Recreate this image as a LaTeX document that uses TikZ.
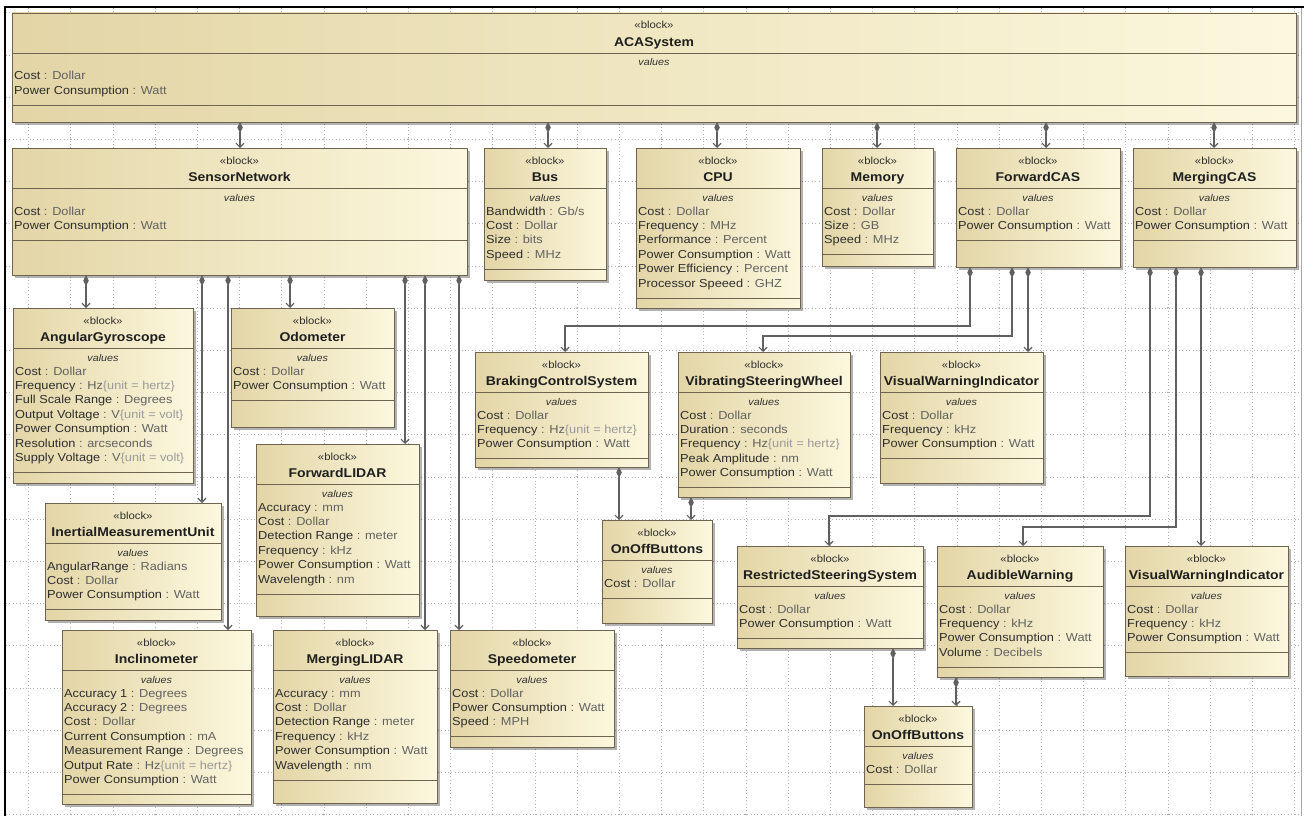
\documentclass[tikz,border=0pt]{standalone}
\usepackage{fontspec}
\setmainfont{Liberation Sans}[FakeStretch=1.1]
\usetikzlibrary{arrows.meta,shadows}

\definecolor{blkdark}{HTML}{E3D5A6}
\definecolor{blklight}{HTML}{FCF8DE}
\definecolor{blkedge}{HTML}{6E6450}
\definecolor{wire}{HTML}{606060}
\definecolor{gridgray}{HTML}{B4B4B4}
\definecolor{txtname}{HTML}{2E2E2E}
\definecolor{txttype}{HTML}{626262}
\definecolor{txtunit}{HTML}{9A9A9A}

% type and unit parts of a value property
\newcommand\attrtype[1]{\textcolor{txttype}{#1}}
\newcommand\attrunit[1]{\textcolor{txtunit}{\{#1\}}}

\tikzset{
  blockbox/.style={rectangle, draw=blkedge, line width=0.8pt,
    left color=blkdark, right color=blklight, inner sep=0pt, outer sep=0pt,
    drop shadow={shadow xshift=2.5pt, shadow yshift=-2.5pt, fill=black, opacity=0.3}},
  divline/.style={draw=blkedge, line width=0.8pt},
  stereo/.style={font=\fontsize{10.3}{12}\selectfont, text=txtname, inner sep=0pt, anchor=base},
  bname/.style={font=\bfseries\fontsize{12.7}{14}\selectfont, text=black!88, inner sep=0pt, anchor=base},
  vlabel/.style={font=\itshape\fontsize{9.8}{12}\selectfont, text=black!80, inner sep=0pt, anchor=base},
  attr/.style={font=\fontsize{11.6}{14}\selectfont, text=txtname, inner sep=0pt, anchor=base west},
  gridline/.style={draw=gridgray, line width=0.5pt, dash pattern=on 0.8pt off 2.6pt},
  comp/.style={draw=wire, line width=1.2pt,
    arrows={Diamond[length=11pt,width=5.5pt]-Straight Barb[length=4pt,width=8pt]}},
}

% #1 name, #2 left, #3 top, #4 right, #5 bottom, #6 title, #7 number of values, #8 values
\newcommand\sysblock[8]{%
  \pgfmathsetmacro\bw{#4-#2}%
  \pgfmathsetmacro\bh{#5-#3}%
  \node[blockbox, minimum width=\bw pt, minimum height=\bh pt, anchor=north west] (#1) at (#2,#3) {};
  \draw[divline] ([yshift=-40pt]#1.north west) -- ([yshift=-40pt]#1.north east);
  \draw[divline] ([yshift={-78pt-14.4pt*(#7-1)}]#1.north west) -- ([yshift={-78pt-14.4pt*(#7-1)}]#1.north east);
  \node[stereo] (#1-st) at ([yshift=-16pt]#1.north) {«block»};
  \node[bname] (#1-nm) at ([yshift=-33.5pt]#1.north) {#6};
  \node[vlabel] (#1-vl) at ([yshift=-53pt]#1.north) {values};
  \foreach \ln [count=\i] in {#8} {
    \node[attr] (#1-a\i) at ([xshift=2pt,yshift={-67pt-14.4pt*(\i-1)}]#1.north west) {\ln};
  }%
}

\begin{document}
\begin{tikzpicture}[x=1pt,y=-1pt]
\useasboundingbox (0,0) rectangle (1304,816);
\fill[white] (0,0) rectangle (1304,816);

% drawing grid
\foreach \k in {0,...,30} \draw[gridline] ({28.4+42.2*\k},8) -- ({28.4+42.2*\k},816);
\foreach \k in {0,...,19} \draw[gridline] (6,{12.6+42.2*\k}) -- (1304,{12.6+42.2*\k});
\foreach \k in {1,3,...,29} \foreach \m in {1,3,...,19}
  \fill[gray!70] ({28.4+42.2*\k},{12.6+42.2*\m}) circle (0.9pt);

% diagram frame
\draw[black, line width=2pt] (5,816) -- (5,7) -- (1304,7);
\draw[gray!70, line width=0.8pt] (1301,8) -- (1301,816);

% blocks
\sysblock{aca}{12}{13}{1296}{122}{ACASystem}{2}{%
  Cost \attrtype{: Dollar}, Power Consumption \attrtype{: Watt}}
\sysblock{sn}{12}{148}{467}{275}{SensorNetwork}{2}{%
  Cost \attrtype{: Dollar}, Power Consumption \attrtype{: Watt}}
\sysblock{bus}{484}{148}{606}{280}{Bus}{4}{%
  Bandwidth \attrtype{: Gb/s}, Cost \attrtype{: Dollar}, Size \attrtype{: bits}, Speed \attrtype{: MHz}}
\sysblock{cpu}{636}{148}{800}{308}{CPU}{6}{%
  Cost \attrtype{: Dollar}, Frequency \attrtype{: MHz}, Performance \attrtype{: Percent},
  Power Consumption \attrtype{: Watt}, Power Efficiency \attrtype{: Percent},
  Processor Speeed \attrtype{: GHZ}}
\sysblock{mem}{822}{148}{933}{266}{Memory}{3}{%
  Cost \attrtype{: Dollar}, Size \attrtype{: GB}, Speed \attrtype{: MHz}}
\sysblock{fcas}{956}{148}{1120}{267}{ForwardCAS}{2}{%
  Cost \attrtype{: Dollar}, Power Consumption \attrtype{: Watt}}
\sysblock{mcas}{1133}{148}{1296}{267}{MergingCAS}{2}{%
  Cost \attrtype{: Dollar}, Power Consumption \attrtype{: Watt}}

\sysblock{ag}{13}{308}{193}{483}{AngularGyroscope}{7}{%
  Cost \attrtype{: Dollar}, Frequency \attrtype{: Hz}\attrunit{unit = hertz},
  Full Scale Range \attrtype{: Degrees}, Output Voltage \attrtype{: V}\attrunit{unit = volt},
  Power Consumption \attrtype{: Watt}, Resolution \attrtype{: arcseconds},
  Supply Voltage \attrtype{: V}\attrunit{unit = volt}}
\sysblock{odo}{231}{308}{394}{427}{Odometer}{2}{%
  Cost \attrtype{: Dollar}, Power Consumption \attrtype{: Watt}}
\sysblock{flidar}{256}{444}{419}{616}{ForwardLIDAR}{6}{%
  Accuracy \attrtype{: mm}, Cost \attrtype{: Dollar}, Detection Range \attrtype{: meter},
  Frequency \attrtype{: kHz}, Power Consumption \attrtype{: Watt}, Wavelength \attrtype{: nm}}
\sysblock{imu}{45}{503}{221}{620}{InertialMeasurementUnit}{3}{%
  AngularRange \attrtype{: Radians}, Cost \attrtype{: Dollar}, Power Consumption \attrtype{: Watt}}
\sysblock{incl}{62}{630}{251}{804}{Inclinometer}{7}{%
  Accuracy 1 \attrtype{: Degrees}, Accuracy 2 \attrtype{: Degrees}, Cost \attrtype{: Dollar},
  Current Consumption \attrtype{: mA}, Measurement Range \attrtype{: Degrees},
  Output Rate \attrtype{: Hz}\attrunit{unit = hertz}, Power Consumption \attrtype{: Watt}}
\sysblock{mlidar}{273}{630}{437}{803}{MergingLIDAR}{6}{%
  Accuracy \attrtype{: mm}, Cost \attrtype{: Dollar}, Detection Range \attrtype{: meter},
  Frequency \attrtype{: kHz}, Power Consumption \attrtype{: Watt}, Wavelength \attrtype{: nm}}
\sysblock{speedo}{450}{630}{614}{747}{Speedometer}{3}{%
  Cost \attrtype{: Dollar}, Power Consumption \attrtype{: Watt}, Speed \attrtype{: MPH}}

\sysblock{bcs}{475}{352}{648}{467}{BrakingControlSystem}{3}{%
  Cost \attrtype{: Dollar}, Frequency \attrtype{: Hz}\attrunit{unit = hertz},
  Power Consumption \attrtype{: Watt}}
\sysblock{vsw}{678}{352}{850}{497}{VibratingSteeringWheel}{5}{%
  Cost \attrtype{: Dollar}, Duration \attrtype{: seconds},
  Frequency \attrtype{: Hz}\attrunit{unit = hertz}, Peak Amplitude \attrtype{: nm},
  Power Consumption \attrtype{: Watt}}
\sysblock{vwia}{880}{352}{1043}{483}{VisualWarningIndicator}{3}{%
  Cost \attrtype{: Dollar}, Frequency \attrtype{: kHz}, Power Consumption \attrtype{: Watt}}
\sysblock{ooba}{602}{520}{712}{623}{OnOffButtons}{1}{Cost \attrtype{: Dollar}}
\sysblock{rss}{737}{546}{923}{648}{RestrictedSteeringSystem}{2}{%
  Cost \attrtype{: Dollar}, Power Consumption \attrtype{: Watt}}
\sysblock{aw}{937}{546}{1103}{677}{AudibleWarning}{4}{%
  Cost \attrtype{: Dollar}, Frequency \attrtype{: kHz}, Power Consumption \attrtype{: Watt},
  Volume \attrtype{: Decibels}}
\sysblock{vwib}{1125}{546}{1288}{676}{VisualWarningIndicator}{3}{%
  Cost \attrtype{: Dollar}, Frequency \attrtype{: kHz}, Power Consumption \attrtype{: Watt}}
\sysblock{oobb}{864}{706}{972}{807}{OnOffButtons}{1}{Cost \attrtype{: Dollar}}

% composition links of the system
\draw[comp] (aca.south -| 240,0) -- (sn.north -| 240,0);
\draw[comp] (aca.south -| 548,0) -- (bus.north -| 548,0);
\draw[comp] (aca.south -| 717,0) -- (cpu.north -| 717,0);
\draw[comp] (aca.south -| 877,0) -- (mem.north -| 877,0);
\draw[comp] (aca.south -| 1046,0) -- (fcas.north -| 1046,0);
\draw[comp] (aca.south -| 1214,0) -- (mcas.north -| 1214,0);

% sensor network parts
\draw[comp] (sn.south -| 86,0) -- (ag.north -| 86,0);
\draw[comp] (sn.south -| 202,0) -- (imu.north -| 202,0);
\draw[comp] (sn.south -| 228,0) -- (incl.north -| 228,0);
\draw[comp] (sn.south -| 290,0) -- (odo.north -| 290,0);
\draw[comp] (sn.south -| 405,0) -- (flidar.north -| 405,0);
\draw[comp] (sn.south -| 425,0) -- (mlidar.north -| 425,0);
\draw[comp] (sn.south -| 459,0) -- (speedo.north -| 459,0);

% forward collision avoidance parts
\draw[comp] (fcas.south -| 970,0) -- (970,326) -| (bcs.north -| 565,0);
\draw[comp] (fcas.south -| 1012,0) -- (1012,336) -| (vsw.north -| 763,0);
\draw[comp] (fcas.south -| 1028,0) -- (vwia.north -| 1028,0);

% merging collision avoidance parts
\draw[comp] (mcas.south -| 1150,0) -- (1150,516) -| (rss.north -| 829,0);
\draw[comp] (mcas.south -| 1176,0) -- (1176,527) -| (aw.north -| 1023,0);
\draw[comp] (mcas.south -| 1201,0) -- (vwib.north -| 1201,0);

% on/off buttons
\draw[comp] (bcs.south -| 619,0) -- (ooba.north -| 619,0);
\draw[comp] (vsw.south -| 691,0) -- (ooba.north -| 691,0);
\draw[comp] (rss.south -| 893,0) -- (oobb.north -| 893,0);
\draw[comp] (aw.south -| 956,0) -- (oobb.north -| 956,0);
\end{tikzpicture}
\end{document}
